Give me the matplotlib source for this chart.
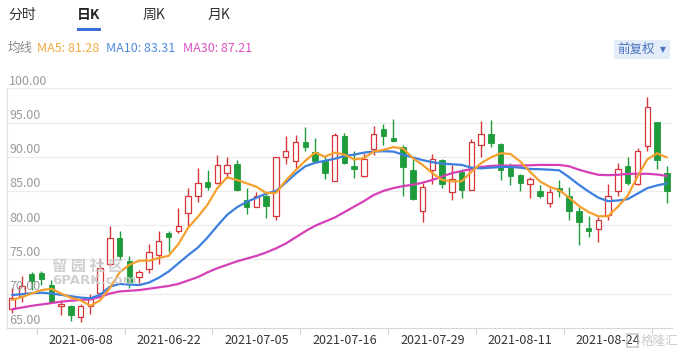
import matplotlib
matplotlib.use("Agg")
import matplotlib.pyplot as plt
import matplotlib.transforms as mtransforms
from matplotlib.patches import Rectangle
import numpy as np

plt.rcParams['font.family'] = ['Noto Sans CJK SC', 'DejaVu Sans']

# ---------------- data ----------------
opens = [67.7, 69.6, 72.8, 72.95, 71.2, 68.1, 68.2, 66.5, 68.1, 70.1,
         74.3, 78.1, 74.7, 72.4, 73.6, 75.6, 78.8, 79.2, 81.7, 84.3,
         86.3, 86.1, 87.6, 88.9, 83.6, 82.7, 84.2, 81.4, 90.0, 89.4,
         92.2, 90.7, 89.4, 86.5, 93.05, 88.6, 87.2, 91.1, 94.0, 92.7,
         91.4, 88.1, 82.0, 88.0, 89.5, 84.9, 87.8, 85.2, 91.7, 93.3,
         91.9, 88.7, 87.3, 86.0, 85.05, 83.2, 85.4, 84.3, 82.0, 79.6,
         79.5, 81.5, 85.05, 88.7, 86.0, 91.6, 95.0, 87.6]
closes = [69.3, 71.1, 71.9, 72.1, 68.8, 68.4, 66.8, 68.1, 69.2, 73.8,
          78.1, 75.5, 71.7, 73.2, 76.0, 77.7, 78.2, 79.9, 84.2, 86.2,
          85.6, 88.8, 88.8, 85.2, 82.7, 84.2, 82.8, 89.9, 90.85, 92.1,
          91.4, 89.4, 87.6, 93.2, 89.05, 88.2, 89.6, 93.3, 93.05, 92.3,
          88.5, 83.8, 85.5, 89.6, 86.0, 86.7, 85.2, 92.1, 93.3, 92.0,
          88.1, 87.2, 86.1, 86.7, 84.2, 84.8, 85.05, 82.0, 80.4, 79.15,
          80.8, 84.2, 88.2, 86.1, 90.9, 97.3, 89.5, 85.05]
highs = [70.8, 72.6, 73.2, 73.3, 72.0, 69.0, 68.3, 68.5, 70.0, 75.1,
         79.9, 79.1, 75.5, 73.5, 77.3, 79.1, 79.1, 82.5, 85.4, 88.3,
         88.1, 90.2, 89.9, 89.5, 85.4, 84.8, 84.8, 90.0, 93.0, 93.1,
         94.3, 92.8, 90.1, 93.4, 93.5, 90.9, 90.5, 94.5, 94.8, 95.5,
         91.7, 89.6, 86.2, 90.4, 89.6, 88.8, 88.2, 92.6, 95.2, 95.4,
         92.0, 89.1, 87.5, 87.1, 85.9, 85.4, 86.6, 85.5, 82.7, 81.4,
         81.2, 86.0, 89.05, 89.9, 91.3, 98.7, 95.0, 88.6]
lows = [67.1, 68.7, 70.5, 71.3, 68.7, 66.85, 66.0, 65.9, 67.0, 69.9,
        74.0, 74.9, 70.8, 71.6, 73.0, 74.3, 76.0, 78.9, 79.8, 83.4,
        85.2, 86.0, 86.9, 85.0, 81.6, 82.6, 81.0, 80.8, 89.0, 88.4,
        90.8, 89.1, 86.7, 86.4, 88.9, 86.9, 87.0, 90.3, 91.7, 92.1,
        84.3, 83.7, 80.4, 86.0, 85.4, 83.7, 83.9, 85.1, 90.0, 91.4,
        86.6, 85.9, 85.0, 83.9, 83.9, 82.7, 84.1, 80.7, 77.1, 78.3,
        77.5, 80.8, 84.3, 85.9, 85.9, 90.8, 88.2, 83.3]

ma5 = [69.05, 69.5, 70.0, 70.5, 70.7, 70.0, 69.4, 69.0, 68.2, 69.0,
       70.8, 73.1, 74.2, 74.8, 74.8, 75.2, 75.5, 77.2, 79.6, 81.2,
       83.0, 85.4, 87.0, 86.6, 86.1, 85.6, 84.7, 84.7, 86.5, 88.0,
       89.4, 90.6, 90.0, 90.6, 90.3, 89.6, 89.8, 90.75, 91.0, 91.4,
       91.2, 89.8, 88.8, 87.6, 86.6, 86.4, 86.4, 87.8, 89.05, 89.9,
       90.5, 90.4, 89.3, 87.8, 86.4, 85.6, 85.1, 84.0, 82.8, 81.9,
       81.3, 81.3, 82.7, 84.3, 87.1, 89.6, 90.5, 89.9]
ma10 = [69.78, 69.9, 70.05, 70.12, 70.0, 69.8, 69.6, 69.4, 69.3, 69.8,
        71.0, 71.4, 71.3, 71.24, 71.6, 72.3, 73.2, 74.4, 75.6, 76.7,
        78.2, 79.9, 81.5, 82.6, 83.4, 84.0, 84.6, 85.0, 86.2, 87.5,
        88.6, 89.1, 89.4, 89.7, 90.1, 90.3, 90.6, 90.75, 90.8, 90.75,
        90.3, 89.9, 89.5, 89.2, 89.0, 88.9, 88.8, 88.4, 88.3, 88.4,
        88.5, 88.5, 88.4, 88.2, 88.17, 88.1, 88.0, 87.0, 85.9, 84.9,
        84.0, 83.5, 83.6, 83.8, 84.6, 85.4, 85.8, 86.1]
ma30 = [67.7, 67.95, 68.2, 68.4, 68.6, 68.8, 68.95, 69.05, 69.15, 69.5,
        70.0, 70.3, 70.4, 70.5, 70.7, 70.9, 71.1, 71.4, 71.9, 72.4,
        73.1, 73.7, 74.2, 74.7, 75.1, 75.5, 76.0, 76.6, 77.3, 78.2,
        79.1, 79.9, 80.5, 81.1, 81.9, 82.7, 83.5, 84.4, 85.0, 85.4,
        85.7, 85.9, 86.2, 86.6, 87.1, 87.6, 87.9, 88.2, 88.5, 88.66,
        88.7, 88.7, 88.7, 88.75, 88.8, 88.8, 88.8, 88.6, 88.1, 87.7,
        87.35, 87.3, 87.35, 87.5, 87.5, 87.5, 87.4, 87.2]

date_labels = ["2021-06-08", "2021-06-22", "2021-07-05", "2021-07-16",
               "2021-07-29", "2021-08-11", "2021-08-24"]
date_label_idx = [7, 16, 25, 34, 43, 52, 61]
tick_bounds = [2.5, 11.5, 20.5, 29.5, 38.5, 47.5, 56.5, 65.5]
y_ticks = [65, 70, 75, 80, 85, 90, 95, 100]

tabs = ["分时", "日K", "周K", "月K"]
legend_texts = ["MA5: 81.28", "MA10: 83.31", "MA30: 87.21"]

# ---------------- style ----------------
UP = "#D8353B"
DOWN = "#1E9B3B"
C_MA5 = "#F5A02E"
C_MA10 = "#3B7FDF"
C_MA30 = "#D63FB8"
W, H = 682, 355

fig = plt.figure(figsize=(W / 100, H / 100), dpi=100)
fig.patch.set_facecolor("white")

x0, x1, yb, yt = 7.3, 671.7, 327.7, 88.3
ax = fig.add_axes([x0 / W, 1 - yb / H, (x1 - x0) / W, (yb - yt) / H])
ax.set_xlim(-0.5, len(opens) - 0.5)
ax.set_ylim(65, 100)
ax.set_facecolor("white")
ax.patch.set_alpha(0)

for s in ["top", "right"]:
    ax.spines[s].set_visible(False)
ax.spines["left"].set_color("#E2E2E2")
ax.spines["left"].set_linewidth(0.8)
ax.spines["bottom"].set_color("#D6D6D6")
ax.spines["bottom"].set_linewidth(0.8)

for v in y_ticks[1:]:
    ax.axhline(v, color="#EBEBEB", lw=0.8, zorder=0)
ax.set_yticks([])

ax.set_xticks(tick_bounds)
ax.set_xticklabels([])
ax.tick_params(axis="x", length=4, width=0.8, color="#D0D0D0")

# y labels above gridlines
off_y = mtransforms.offset_copy(ax.transData, fig=fig, x=0, y=7, units="dots")
tr_y = mtransforms.blended_transform_factory(fig.transFigure, off_y)
for v in y_ticks:
    ax.text(9.3 / W, v, f"{v:.2f}", transform=tr_y, ha="left", va="center",
            fontsize=9, color="#9A9A9A", clip_on=False)

# x labels
off_x = mtransforms.offset_copy(ax.transAxes, fig=fig, x=0, y=-12.8, units="dots")
tr_x = mtransforms.blended_transform_factory(ax.transData, off_x)
for idx, lab in zip(date_label_idx, date_labels):
    ax.text(idx, 0, lab, transform=tr_x, ha="center", va="center",
            fontsize=9, color="#333333", clip_on=False)

# candles
xs = np.arange(len(opens))
bw = 0.56
for i in xs:
    o, c, h, l = opens[i], closes[i], highs[i], lows[i]
    lo, hi = min(o, c), max(o, c)
    hgt = max(hi - lo, 0.12)
    if c >= o:
        ax.vlines(i, l, lo, color=UP, lw=1.0, zorder=2)
        ax.vlines(i, lo + hgt, h, color=UP, lw=1.0, zorder=2)
        ax.bar(i, hgt, bottom=lo, width=bw, facecolor="white", edgecolor=UP,
               linewidth=0.9, zorder=2)
    else:
        ax.vlines(i, l, h, color=DOWN, lw=1.0, zorder=2)
        ax.bar(i, hgt, bottom=lo, width=bw, facecolor=DOWN, edgecolor=DOWN,
               linewidth=0.6, zorder=2)

ax.plot(xs, ma30, color=C_MA30, lw=1.6, zorder=3, solid_capstyle="round")
ax.plot(xs, ma10, color=C_MA10, lw=1.6, zorder=3, solid_capstyle="round")
ax.plot(xs, ma5, color=C_MA5, lw=1.6, zorder=3, solid_capstyle="round")

# ---------------- header ----------------
def ftxt(x, y, s, **kw):
    fig.text(x / W, 1 - y / H, s, **kw)

tab_x = [8, 77, 143, 208]
for tx, t in zip(tab_x, tabs):
    bold = (t == "日K")
    ftxt(tx, 14.5, t, fontsize=10, color="#222222" if bold else "#333333",
         fontweight="bold" if bold else "normal", ha="left", va="center")
fig.patches.append(Rectangle((77 / W, 1 - 31 / H), 24 / W, 3 / H,
                             transform=fig.transFigure, facecolor="#3A6FD8",
                             edgecolor="none"))

ftxt(8, 48, "均线", fontsize=9, color="#8A8A8A", ha="left", va="center")
for lx, t, col in zip([37, 106, 183], legend_texts, [C_MA5, C_MA10, C_MA30]):
    ftxt(lx, 48, t, fontsize=9, color=col, ha="left", va="center", alpha=0.9)

fig.patches.append(Rectangle((614 / W, 1 - 59 / H), 56 / W, 19 / H,
                             transform=fig.transFigure, facecolor="#E4ECFA",
                             edgecolor="none"))
ftxt(617, 49.5, "前复权", fontsize=9, color="#4A72BE", ha="left", va="center")
ftxt(663, 50, "▼", fontsize=5.5, color="#4A72BE", ha="center", va="center",
     family=["DejaVu Sans"])

# ---------------- watermarks (placed to avoid covering labels) ----------------
ftxt(52, 266, "留 园 社 区", fontsize=11, color="#C8C8C8", ha="left", va="center",
     alpha=0.85, fontweight="bold")
ftxt(52, 281, "6PARK.com", fontsize=9.5, color="#C8C8C8", ha="left", va="center",
     alpha=0.85, fontweight="bold", family=["DejaVu Sans"])
ftxt(641, 341, "格隆汇", fontsize=9, color="#BDBDBD", ha="left", va="center",
     alpha=0.8)
fig.patches.append(Rectangle((627 / W, 1 - 347 / H), 11 / W, 13 / H,
                             transform=fig.transFigure, facecolor="none",
                             edgecolor="#BDBDBD", linewidth=1.2, alpha=0.8))

fig.savefig("out.png", dpi=100, facecolor="white")
